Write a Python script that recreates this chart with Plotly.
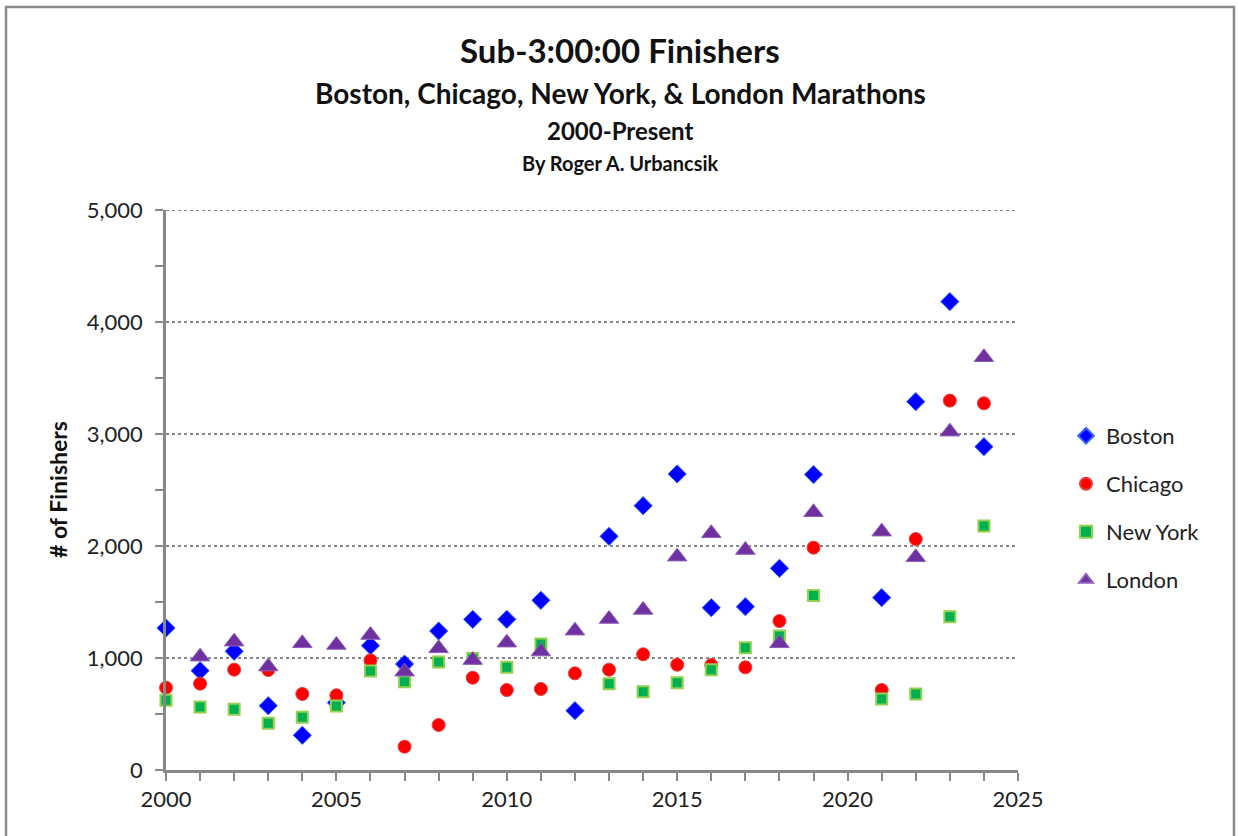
import plotly.graph_objects as go

years = list(range(2000, 2025))

boston = [1268, 887, 1060, 574, 310, 601, 1110, 946, 1241, 1345, 1345, 1515, 530, 2086, 2360,
          2643, 1449, 1458, 1801, 2638, None, 1539, 3289, 4182, 2887]
chicago = [735, 771, 896, 893, 679, 667, 979, 208, 402, 824, 714, 723, 863, 896, 1033,
           940, 937, 917, 1330, 1985, None, 714, 2062, 3298, 3274]
new_york = [622, 562, 542, 417, 471, 571, 884, 789, 964, 995, 917, 1125, None, 771, 699,
            780, 896, 1092, 1196, 1557, None, 634, 679, 1369, 2179]
london = [None, 1012, 1146, 923, 1131, 1116, 1205, 878, 1086, 982, 1137, 1057, 1244, 1348, 1429,
          1905, 2113, 1964, 1131, 2301, None, 2128, 1899, 3021, 3685]

series_names = ["Boston", "Chicago", "New York", "London"]

FONT = "Lato, 'Open Sans', sans-serif"

# page-pixel geometry of the plot area
L, R, T, B = 166, 1018, 210, 770
W, H = R - L, B - T


def px(xp):
    return (xp - L) / W


def py(yp):
    return (B - yp) / H


fig = go.Figure()
styles = [
    dict(symbol="diamond", size=14, color="#0000FF", line=dict(color="#3366FF", width=1)),
    dict(symbol="circle", size=13, color="#FF0000", line=dict(color="#E04040", width=1)),
    dict(symbol="square", size=11, color="#00B050", line=dict(color="#92D050", width=2)),
    dict(symbol="triangle-up", size=17, color="#7030A0", line=dict(color="#8a60b8", width=1)),
]
legend_ids = ["legend", "legend2", "legend3", "legend4"]
legend_y = [436, 484, 532, 580]
for name, vals, st, lid in zip(series_names, [boston, chicago, new_york, london], styles, legend_ids):
    fig.add_trace(go.Scatter(x=years, y=vals, mode="markers", name=name, marker=st,
                             cliponaxis=False, legend=lid))

legend_common = dict(xanchor="left", yanchor="middle", font=dict(size=22, color="#222", family=FONT),
                     itemwidth=30, itemsizing="constant", bgcolor="rgba(0,0,0,0)", borderwidth=0)
legend_layout = {}
for lid, ly in zip(legend_ids, legend_y):
    legend_layout[lid] = dict(x=px(1066), y=py(ly), **legend_common)

fig.update_layout(
    width=1238, height=836,
    margin=dict(l=L, r=1238 - R, t=T, b=836 - B),
    paper_bgcolor="white", plot_bgcolor="white",
    font=dict(family=FONT, color="#222"),
    showlegend=True,
    xaxis=dict(range=[2000, 2025], tickmode="linear", tick0=2000, dtick=5,
               ticks="outside", ticklen=8, tickwidth=2, tickcolor="#888",
               showline=True, linecolor="#888", linewidth=2.5,
               showgrid=False, zeroline=False,
               tickfont=dict(size=22, color="#222"),
               minor=dict(dtick=1, ticks="outside", ticklen=8, tickwidth=2, tickcolor="#888", showgrid=False)),
    yaxis=dict(range=[0, 5000], tickmode="linear", tick0=0, dtick=1000,
               tickformat=",d",
               ticks="outside", ticklen=8, tickwidth=2, tickcolor="#888",
               showline=True, linecolor="#888", linewidth=2.5,
               showgrid=True, gridcolor="#888", griddash="dot", gridwidth=2,
               zeroline=False, ticklabelstandoff=8,
               tickfont=dict(size=22, color="#222"),
               minor=dict(dtick=500, ticks="outside", ticklen=8, tickwidth=2, tickcolor="#888", showgrid=False)),
    **legend_layout,
)

# top gridline (at the axis range edge plotly omits it)
fig.add_shape(type="line", xref="paper", yref="y", x0=0, x1=1, y0=5000, y1=5000,
              line=dict(color="#888", width=2, dash="dot"), layer="below")

titles = [
    ("<b>Sub-3:00:00 Finishers</b>", 33, 50),
    ("<b>Boston, Chicago, New York, &amp; London Marathons</b>", 28, 93),
    ("<b>2000-Present</b>", 24, 130),
    ("<b>By Roger A. Urbancsik</b>", 20, 163),
]
for text, size, ypx in titles:
    fig.add_annotation(text=text, xref="paper", yref="paper",
                       x=px(620), y=py(ypx),
                       xanchor="center", yanchor="middle", showarrow=False,
                       font=dict(size=size, color="#111", family=FONT))

# y-axis title
fig.add_annotation(text="<b># of Finishers</b>", xref="paper", yref="paper",
                   x=px(58), y=py(490), textangle=-90,
                   xanchor="center", yanchor="middle", showarrow=False,
                   font=dict(size=23, color="#111", family=FONT))

# outer chart border
fig.add_shape(type="rect", xref="paper", yref="paper",
              x0=px(6), x1=px(1234), y0=py(845), y1=py(7),
              line=dict(color="#8a8a8a", width=2.5), layer="below")

fig.write_html("out.html", config={"displayModeBar": False},
               post_script="document.body.style.margin='0';")
